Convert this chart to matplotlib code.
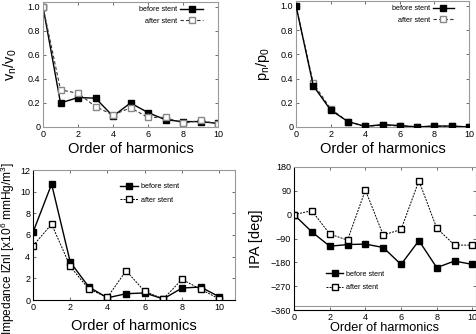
import numpy as np
import matplotlib
matplotlib.use('Agg')
import matplotlib.pyplot as plt

plt.rcParams['font.family'] = ['Liberation Sans', 'DejaVu Sans']
plt.rcParams['mathtext.default'] = 'regular'

# harmonic orders
order = np.arange(0, 11)

# velocity ratio v_n/v_0
v_before = [1.0, 0.20, 0.245, 0.24, 0.09, 0.20, 0.12, 0.06, 0.045, 0.045, 0.03]
v_after = [1.0, 0.31, 0.28, 0.17, 0.10, 0.16, 0.08, 0.08, 0.03, 0.055, 0.025]

# pressure ratio p_n/p_0
p_before = [1.0, 0.34, 0.14, 0.045, 0.005, 0.02, 0.012, 0.0, 0.008, 0.008, 0.0]
p_after = [1.0, 0.36, 0.15, 0.045, 0.005, 0.015, 0.008, 0.003, 0.006, 0.005, 0.002]

# impedance modulus |Zn|
z_before = [6.25, 10.7, 3.5, 1.2, 0.2, 0.58, 0.65, 0.1, 1.1, 1.2, 0.3]
z_after = [5.0, 7.0, 3.1, 1.0, 0.25, 2.7, 0.8, 0.1, 1.9, 1.0, 0.1]

# impedance phase angle
ipa_before = [0, -65, -119, -113, -111, -124, -188, -98, -200, -175, -188]
ipa_after = [0, 15, -73, -96, 93, -77, -56, 128, -51, -115, -115]

labels = ['before stent', 'after stent']

fig = plt.figure(figsize=(4.76, 3.34), dpi=100)
W, H = 476.0, 334.0


def add_ax(l, r, t, b):
    return fig.add_axes([l / W, 1 - b / H, (r - l) / W, (b - t) / H])


def style(ax, dark_lb):
    for s in ['top', 'right']:
        ax.spines[s].set_color('#999999')
    for s in ['left', 'bottom']:
        ax.spines[s].set_color('black' if dark_lb else '#999999')
    for s in ax.spines.values():
        s.set_linewidth(0.8)
    ax.tick_params(direction='in', length=2.5, width=0.6, labelsize=6.5,
                   top=True, right=True, pad=2, color='#555555')


# top-left: velocity
ax1 = add_ax(43, 218, 2, 127)
ax1.plot(order, v_before, '-', color='black', lw=1.0, marker='s', ms=4,
         mfc='black', mec='black', label=labels[0])
ax1.plot(order, v_after, '--', color='#333333', lw=0.8, dashes=(3, 2), marker='s',
         ms=4, mfc='white', mec='#888888', label=labels[1])
ax1.set_xlim(0, 10)
ax1.set_ylim(0, 1.04)
ax1.set_xticks([0, 2, 4, 6, 8, 10])
ax1.set_yticks([0, 0.2, 0.4, 0.6, 0.8, 1.0])
ax1.set_yticklabels(['0', '0.2', '0.4', '0.6', '0.8', '1.0'])
ax1.set_xlabel('Order of harmonics', fontsize=10.5, labelpad=2)
ax1.set_ylabel('v$_n$/v$_0$', fontsize=10.5, labelpad=6)
style(ax1, False)
ax1.legend(loc='upper right', frameon=False, fontsize=5.2, markerfirst=False,
           handlelength=3.2, handletextpad=0.4, labelspacing=0.6,
           borderaxespad=0.2, bbox_to_anchor=(0.94, 1.0))

# top-right: pressure
ax2 = add_ax(296, 469, 1, 127)
ax2.plot(order, p_before, '-', color='black', lw=1.0, marker='s', ms=4,
         mfc='black', mec='black', label=labels[0], zorder=3)
ax2.plot(order, p_after, '--', color='#333333', lw=0.8, dashes=(3, 2), marker='s',
         ms=4, mfc='white', mec='#888888', label=labels[1], zorder=2)
ax2.set_xlim(0, 10)
ax2.set_ylim(0, 1.04)
ax2.set_xticks([0, 2, 4, 6, 8, 10])
ax2.set_yticks([0, 0.2, 0.4, 0.6, 0.8, 1.0])
ax2.set_yticklabels(['0', '0.2', '0.4', '0.6', '0.8', '1.0'])
ax2.set_xlabel('Order of harmonics', fontsize=10.5, labelpad=2)
ax2.set_ylabel('p$_n$/p$_0$', fontsize=10.5, labelpad=6)
style(ax2, False)
ax2.legend(loc='upper right', frameon=False, fontsize=5.2, markerfirst=False,
           handlelength=3.0, handletextpad=0.4, labelspacing=0.6,
           borderaxespad=0.2, bbox_to_anchor=(0.94, 1.0))

# bottom-left: impedance modulus
ax3 = add_ax(33, 235, 170, 300)
ax3.plot(order, z_before, '-', color='black', lw=1.0, marker='s', ms=4.5,
         mfc='black', mec='black', label=labels[0])
ax3.plot(order, z_after, color='black', lw=0.7, ls=(0, (2, 1.2)), marker='s',
         ms=4.5, mfc='white', mec='black', label=labels[1])
ax3.set_xlim(0, 10.85)
ax3.set_ylim(0, 12)
ax3.set_xticks([0, 2, 4, 6, 8, 10])
ax3.set_yticks([0, 2, 4, 6, 8, 10, 12])
ax3.set_xlabel('Order of harmonics', fontsize=10.5, labelpad=5)
ax3.set_ylabel('Impedance lZnl [x10$^6$ mmHg/m$^3$]', fontsize=8.6)
ax3.yaxis.set_label_coords(-0.08, 0.4)
style(ax3, True)
ax3.legend(loc='upper left', frameon=False, fontsize=5.2,
           handlelength=2.4, handletextpad=0.4, labelspacing=0.9,
           bbox_to_anchor=(0.4, 0.95))

# bottom-right: impedance phase angle
ax4 = add_ax(294, 476, 167, 310)
ax4.plot(order, ipa_before, '-', color='black', lw=1.0, marker='s', ms=4.5,
         mfc='black', mec='black', label=labels[0])
ax4.plot(order, ipa_after, color='black', lw=0.7, ls=(0, (2, 1.2)), marker='s',
         ms=4.5, mfc='white', mec='black', label=labels[1])
ax4.axhline(-345, color='#999999', lw=0.8)
ax4.set_xlim(0, 10.2)
ax4.set_ylim(-360, 180)
ax4.set_xticks([0, 2, 4, 6, 8, 10])
ax4.set_yticks([180, 90, 0, -90, -180, -270, -360])
ax4.set_xlabel('Order of harmonics', fontsize=9.2, labelpad=0.5)
ax4.set_ylabel('IPA [deg]', fontsize=10.5, labelpad=6)
style(ax4, True)
ax4.legend(loc='upper left', frameon=False, fontsize=5.2,
           handlelength=2.4, handletextpad=0.4, labelspacing=0.9,
           bbox_to_anchor=(0.14, 0.32))

fig.savefig('out.png', dpi=100)
